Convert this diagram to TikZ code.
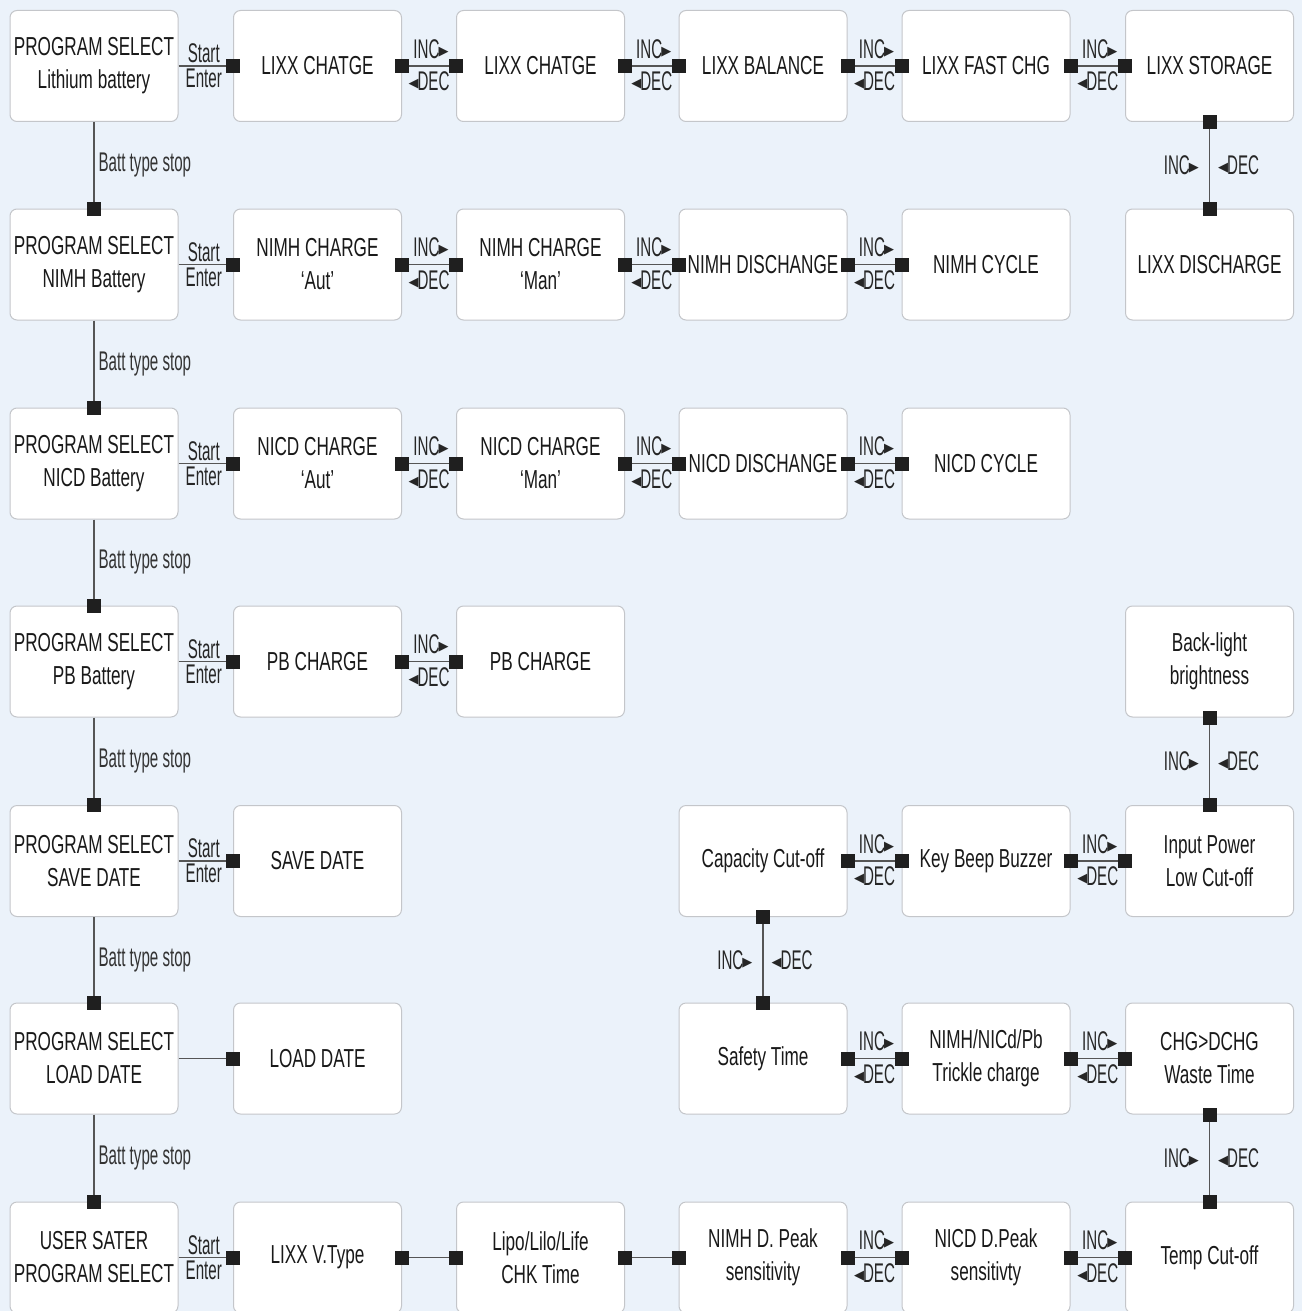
\documentclass[tikz,border=0pt]{standalone}
\usepackage{fontspec}
\setmainfont[FakeStretch=0.66]{Liberation Sans}
\newfontfamily\labfamily[FakeStretch=0.56]{Liberation Sans}
\newfontfamily\symfont{DejaVu Sans}
\definecolor{bgblue}{RGB}{235,242,250}
\definecolor{boxline}{RGB}{196,198,202}
\definecolor{connline}{RGB}{85,85,85}
\newcommand{\mytri}[1]{{\symfont\fontsize{13}{13}\selectfont\raisebox{3pt}{#1}}}
\newcommand{\incl}{INC\kern-1pt\mytri{▶}}
\newcommand{\decl}{\mytri{◀}\kern-1pt DEC}
% connectors
\newcommand{\hid}[2]{\draw[conn] (#1.east) -- (#2.west)
  node[sq,pos=0] (#1-#2-a) {} node[sq,pos=1] (#1-#2-b) {}
  node[lab,midway,above=5pt,xshift=2pt] (#1-#2-i) {\incl}
  node[lab,midway,below=3pt] (#1-#2-d) {\decl};}
\newcommand{\hplain}[2]{\draw[conn] (#1.east) -- (#2.west)
  node[sq,pos=0] (#1-#2-a) {} node[sq,pos=1] (#1-#2-b) {};}
\newcommand{\hstart}[2]{\draw[conn] (#1.east) -- (#2.west)
  node[sq,pos=1] (#1-#2-b) {}
  node[lab,midway,above=1.5pt,xshift=-2pt,inner sep=1pt] (#1-#2-s) {Start}
  node[lab,midway,below=1.5pt,xshift=-2pt,inner sep=1pt] (#1-#2-e) {Enter};}
\newcommand{\hload}[2]{\draw[conn] (#1.east) -- (#2.west)
  node[sq,pos=1] (#1-#2-b) {};}
\newcommand{\vstop}[2]{\draw[conn] (#1.south) -- (#2.north)
  node[sq,pos=1] (#1-#2-b) {}
  node[stoplab,midway,right] (#1-#2-l) {Batt type stop};}
\newcommand{\vid}[2]{\draw[conn] (#1.south) -- (#2.north)
  node[sq,pos=0] (#1-#2-a) {} node[sq,pos=1] (#1-#2-b) {}
  node[lab,midway,left=8pt] (#1-#2-i) {\incl}
  node[lab,midway,right=6pt] (#1-#2-d) {\decl};}
\begin{document}
\begin{tikzpicture}[x=1pt,y=-1pt,
  box/.style={draw=boxline, fill=white, rounded corners=7pt, minimum width=168pt,
    minimum height=111pt, align=center, inner sep=1pt, line width=1pt,
    font=\fontsize{26}{33}\selectfont, text=black!90},
  sq/.style={fill=black!88, minimum size=14pt, inner sep=0pt},
  conn/.style={draw=connline, line width=1.3pt},
  lab/.style={font=\labfamily\fontsize{27}{27}\selectfont, inner sep=2pt, text=black!85},
  stoplab/.style={font=\labfamily\fontsize{27}{27}\selectfont, inner sep=4pt, text=black!80}]
\fill[bgblue] (0,0) rectangle (1302,1311);
\useasboundingbox (0,0) rectangle (1302,1311);
% columns: 94, 317.5, 540.5, 763, 986, 1209.5
% rows: 66, 264.5, 463.5, 661.5, 861, 1058.5, 1257.5
% Row 1
\node[box] (b11) at (94,66) {PROGRAM SELECT\\Lithium battery};
\node[box] (b12) at (317.5,66) {LIXX CHATGE};
\node[box] (b13) at (540.5,66) {LIXX CHATGE};
\node[box] (b14) at (763,66) {LIXX BALANCE};
\node[box] (b15) at (986,66) {LIXX FAST CHG};
\node[box] (b16) at (1209.5,66) {LIXX STORAGE};
% Row 2
\node[box] (b21) at (94,264.5) {PROGRAM SELECT\\NIMH Battery};
\node[box] (b22) at (317.5,264.5) {NIMH CHARGE\\`Aut'};
\node[box] (b23) at (540.5,264.5) {NIMH CHARGE\\`Man'};
\node[box] (b24) at (763,264.5) {NIMH DISCHANGE};
\node[box] (b25) at (986,264.5) {NIMH CYCLE};
\node[box] (b26) at (1209.5,264.5) {LIXX DISCHARGE};
% Row 3
\node[box] (b31) at (94,463.5) {PROGRAM SELECT\\NICD Battery};
\node[box] (b32) at (317.5,463.5) {NICD CHARGE\\`Aut'};
\node[box] (b33) at (540.5,463.5) {NICD CHARGE\\`Man'};
\node[box] (b34) at (763,463.5) {NICD DISCHANGE};
\node[box] (b35) at (986,463.5) {NICD CYCLE};
% Row 4
\node[box] (b41) at (94,661.5) {PROGRAM SELECT\\PB Battery};
\node[box] (b42) at (317.5,661.5) {PB CHARGE};
\node[box] (b43) at (540.5,661.5) {PB CHARGE};
\node[box] (b46) at (1209.5,661.5) {Back-light\\brightness};
% Row 5
\node[box] (b51) at (94,861) {PROGRAM SELECT\\SAVE DATE};
\node[box] (b52) at (317.5,861) {SAVE DATE};
\node[box] (b54) at (763,861) {Capacity Cut-off};
\node[box] (b55) at (986,861) {Key Beep Buzzer};
\node[box] (b56) at (1209.5,861) {Input Power\\Low Cut-off};
% Row 6
\node[box] (b61) at (94,1058.5) {PROGRAM SELECT\\LOAD DATE};
\node[box] (b62) at (317.5,1058.5) {LOAD DATE};
\node[box] (b64) at (763,1058.5) {Safety Time};
\node[box] (b65) at (986,1058.5) {NIMH/NICd/Pb\\Trickle charge};
\node[box] (b66) at (1209.5,1058.5) {CHG>DCHG\\Waste Time};
% Row 7
\node[box] (b71) at (94,1257.5) {USER SATER\\PROGRAM SELECT};
\node[box] (b72) at (317.5,1257.5) {LIXX V.Type};
\node[box] (b73) at (540.5,1257.5) {Lipo/Lilo/Life\\CHK Time};
\node[box] (b74) at (763,1257.5) {NIMH D. Peak\\sensitivity};
\node[box] (b75) at (986,1257.5) {NICD D.Peak\\sensitivty};
\node[box] (b76) at (1209.5,1257.5) {Temp Cut-off};
% vertical Batt type stop chain
\vstop{b11}{b21}
\vstop{b21}{b31}
\vstop{b31}{b41}
\vstop{b41}{b51}
\vstop{b51}{b61}
\vstop{b61}{b71}
% row 1
\hstart{b11}{b12}
\hid{b12}{b13}
\hid{b13}{b14}
\hid{b14}{b15}
\hid{b15}{b16}
\vid{b16}{b26}
% row 2
\hstart{b21}{b22}
\hid{b22}{b23}
\hid{b23}{b24}
\hid{b24}{b25}
% row 3
\hstart{b31}{b32}
\hid{b32}{b33}
\hid{b33}{b34}
\hid{b34}{b35}
% row 4
\hstart{b41}{b42}
\hid{b42}{b43}
\vid{b46}{b56}
% row 5
\hstart{b51}{b52}
\hid{b54}{b55}
\hid{b55}{b56}
\vid{b54}{b64}
% row 6
\hload{b61}{b62}
\hid{b64}{b65}
\hid{b65}{b66}
\vid{b66}{b76}
% row 7
\hstart{b71}{b72}
\hplain{b72}{b73}
\hplain{b73}{b74}
\hid{b74}{b75}
\hid{b75}{b76}
\end{tikzpicture}
\end{document}
